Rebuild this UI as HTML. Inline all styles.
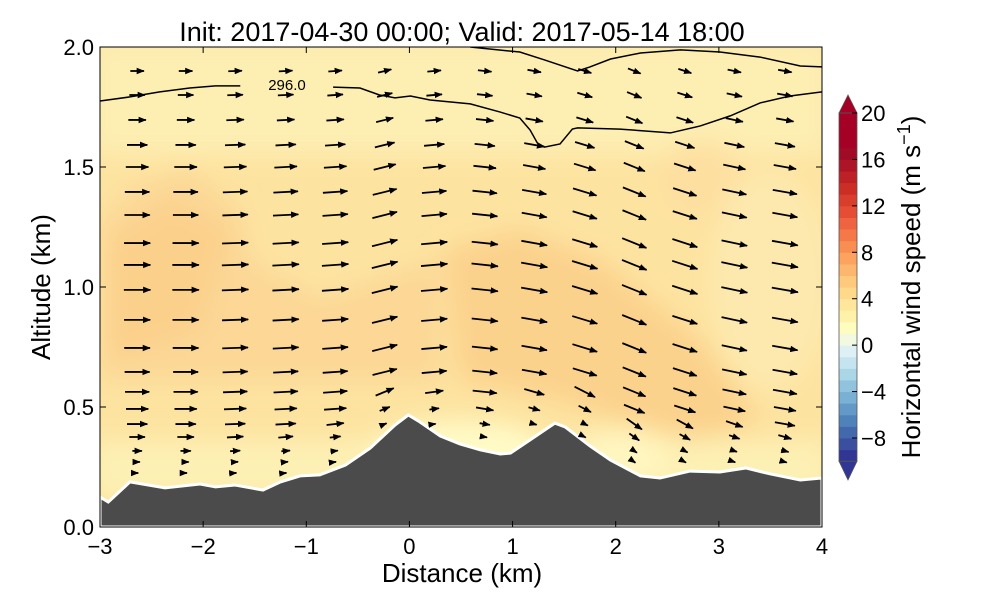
<!DOCTYPE html>
<html><head><meta charset="utf-8"><style>
body{margin:0;background:#fff;}
svg{display:block;font-family:"Liberation Sans","DejaVu Sans",sans-serif;}
</style></head><body>
<svg id="chart" width="1000" height="600" viewBox="0 0 1000 600">
<defs>
<clipPath id="plotclip"><rect x="100" y="47" width="722" height="480"/></clipPath>
<filter id="blur" x="-50%" y="-50%" width="200%" height="200%"><feGaussianBlur stdDeviation="12"/></filter>
<marker id="ah" viewBox="0 0 10 10" refX="9" refY="5" markerWidth="4.5" markerHeight="4.5" orient="auto"><path d="M0,1 L10,5 L0,9 Z" fill="#000"/></marker>
</defs>
<g id="field" clip-path="url(#plotclip)">
<rect x="100" y="47" width="722" height="480" fill="#fde3a0"/>
<g filter="url(#blur)">
<rect x="90" y="40" width="740" height="115" fill="#fdeeb2"/>
<path d="M100,380 L100,220 L140,185 L190,170 L240,210 L250,260 L320,300 L440,260 L440,380 Z" fill="#fcd795"/>
<path d="M110,360 L110,240 L170,200 L230,230 L200,330 Z" fill="#fbd08b"/>
<path d="M445,250 L520,230 L600,260 L700,340 L760,420 L700,440 L620,420 L560,400 L460,380 Z" fill="#fbd28c"/>
<ellipse cx="700" cy="180" rx="45" ry="40" fill="#fde0a0"/>
<ellipse cx="770" cy="280" rx="60" ry="110" fill="#fde9ae"/>
<rect x="90" y="440" width="740" height="60" fill="#fdf0b4"/>
<ellipse cx="460" cy="450" rx="90" ry="30" fill="#fffac6"/>
<ellipse cx="620" cy="455" rx="50" ry="25" fill="#fff6c0"/>
</g>
</g>
<g id="contours" clip-path="url(#plotclip)"></g>
<g id="terrain-g" clip-path="url(#plotclip)"></g>
<g id="quiver" clip-path="url(#plotclip)"></g>
<text x="287" y="90" font-size="15" text-anchor="middle">296.0</text>
<rect x="100" y="47" width="722" height="480" fill="none" stroke="#000" stroke-width="1"/>
<g id="axes"></g>
<text x="462" y="41" font-size="27" text-anchor="middle">Init: 2017-04-30 00:00; Valid: 2017-05-14 18:00</text>
<text x="462" y="582" font-size="26" text-anchor="middle">Distance (km)</text>
<text transform="translate(50,287) rotate(-90)" font-size="26" text-anchor="middle">Altitude (km)</text>
<g id="cbar"></g>
<text transform="translate(920,287) rotate(-90)" font-size="26" text-anchor="middle">Horizontal wind speed (m s<tspan dy="-10" font-size="18">−1</tspan><tspan dy="10">)</tspan></text>
</svg>
<script>
const xTicks=[-3,-2,-1,0,1,2,3,4];
const yTicks=[0.0,0.5,1.0,1.5,2.0];
const terrainX=[-3.00,-2.92,-2.71,-2.37,-2.03,-1.88,-1.69,-1.42,-1.25,-1.06,-0.87,-0.62,-0.38,-0.14,-0.01,0.10,0.30,0.49,0.69,0.88,0.98,1.17,1.41,1.51,1.75,1.95,2.24,2.43,2.72,3.01,3.26,3.50,3.79,4.00];
const terrainZ=[0.125,0.104,0.188,0.163,0.179,0.167,0.175,0.154,0.188,0.213,0.217,0.258,0.329,0.425,0.467,0.438,0.379,0.346,0.321,0.304,0.308,0.363,0.433,0.417,0.338,0.279,0.213,0.204,0.233,0.229,0.246,0.221,0.196,0.204];
const c1aX=[-3,-2.71,-2.42,-2.13,-1.88,-1.64];
const c1aZ=[1.775,1.792,1.813,1.829,1.838,1.838];
const c1bX=[-0.74,-0.48,-0.29,-0.14,0.01,0.20,0.59,0.88,1.07,1.17,1.24,1.31,1.46,1.58,1.63,2.04,2.53,2.82,3.11,3.40,3.69,4];
const c1bZ=[1.833,1.829,1.8,1.788,1.796,1.779,1.763,1.729,1.704,1.654,1.6,1.583,1.596,1.658,1.663,1.658,1.642,1.671,1.713,1.767,1.796,1.813];
const c2X=[0.59,1.07,1.31,1.63,1.75,1.95,2.24,2.63,3.01,3.40,3.79,4];
const c2Z=[2.0,1.979,1.946,1.9,1.917,1.95,1.975,1.988,1.979,1.958,1.921,1.917];
const qCols=[-2.64,-2.17,-1.69,-1.2,-0.72,-0.24,0.24,0.73,1.21,1.70,2.18,2.67,3.15,3.64];
const qColAngle=[0,0,-2,-3,-4,-14,-5,6,10,17,22,18,12,10];
const qLevels=[1.9,1.8,1.696,1.592,1.5,1.396,1.3,1.183,1.092,0.988,0.863,0.746,0.646,0.563,0.492,0.429,0.375,0.317,0.271,0.225];
const qSpeed=[3.5,4,4.5,5.2,5.8,6.3,6.5,6.7,6.8,6.8,6.7,6.6,6.4,6.2,5.7,5.2,4.6,4.0,3.5,3.0];
const cbLevels=[-10,-9,-8,-7,-6,-5,-4,-3,-2,-1,0,1,2,3,4,5,6,7,8,9,10,11,12,13,14,15,16,17,18,19];
const cbColors=["#313695","#3a4f9f","#4169ab","#4f82ba","#6399c7","#79b0d4","#91c3de","#abd6e8","#c4e5ef","#ddf0f4","#f2f9e0","#fffcc0","#fef2ab","#fee79b","#fed98a","#fec97c","#fdb66d","#fca35f","#f98e52","#f57948","#ee6340","#e54e35","#d93e2c","#cc2e26","#bd2126","#ad1426","#a00c26","#a50026","#a50026","#a50026"];
const cbTicks=[-8,-4,0,4,8,12,16,20];

const X0=100,X1=822,Y0=527,Y1=47;
const sx=v=>X0+(v+3)/7*(X1-X0);
const sy=v=>Y0-v/2*(Y0-Y1);
const NS="http://www.w3.org/2000/svg";
function mk(t,a,p){const e=document.createElementNS(NS,t);for(const k in a)e.setAttribute(k,a[k]);p.appendChild(e);return e;}
function terrainAt(x){for(let i=0;i<terrainX.length-1;i++){if(x>=terrainX[i]&&x<=terrainX[i+1]){const f=(x-terrainX[i])/(terrainX[i+1]-terrainX[i]);return terrainZ[i]+f*(terrainZ[i+1]-terrainZ[i]);}}return 0.2;}

const tg=document.getElementById('terrain-g');
let d='M'+sx(terrainX[0])+','+sy(terrainZ[0]);
terrainX.forEach((x,i)=>{d+=' L'+sx(x)+','+sy(terrainZ[i]);});
d+=' L'+sx(4)+','+sy(0)+' L'+sx(-3)+','+sy(0)+' Z';
const tp=mk('path',{d:d,fill:'#4b4b4b',stroke:'#ffffff','stroke-width':3},tg);



const cg=document.getElementById('contours');
[[c1aX,c1aZ],[c1bX,c1bZ],[c2X,c2Z]].forEach((c,k)=>{
  const p=c[0].map((x,i)=>sx(x)+','+sy(c[1][i])).join(' ');
  const l=mk('polyline',{points:p,fill:'none',stroke:'#000','stroke-width':1.5},cg);
  
  
});

const qg=document.getElementById('quiver');
qCols.forEach((x,i)=>{
  const tz=terrainAt(x);
  qLevels.forEach((z,j)=>{
    if(z<tz+0.02)return;
    const gf=Math.min(1,(z-tz)/0.22);
    const len=qSpeed[j]*3.9*Math.max(0.12,gf);
    const ang=qColAngle[i]*Math.PI/180*(gf<1?1.6:1);
    const cx=sx(x),cy=sy(z);
    const dx=len*Math.cos(ang),dy=len*Math.sin(ang);
    const a=mk('line',{x1:cx-dx/2,y1:cy-dy/2,x2:cx+dx/2,y2:cy+dy/2,stroke:'#000','stroke-width':1.8,'marker-end':'url(#ah)'},qg);
    
    
  });
});

const ag=document.getElementById('axes');
xTicks.forEach(t=>{
  mk('line',{x1:sx(t),x2:sx(t),y1:Y0,y2:Y0-6,stroke:'#000'},ag);
  mk('line',{x1:sx(t),x2:sx(t),y1:Y1,y2:Y1+6,stroke:'#000'},ag);
  const tx=mk('text',{x:sx(t),y:554,'font-size':22,'text-anchor':'middle'},ag);
  tx.textContent=t<0?'−'+(-t):String(t);
  
  
});
yTicks.forEach(t=>{
  mk('line',{x1:X0,x2:X0+6,y1:sy(t),y2:sy(t),stroke:'#000'},ag);
  mk('line',{x1:X1,x2:X1-6,y1:sy(t),y2:sy(t),stroke:'#000'},ag);
  const tx=mk('text',{x:94,y:sy(t)+8,'font-size':22,'text-anchor':'end'},ag);
  tx.textContent=t.toFixed(1);
  
  
});

const cb=document.getElementById('cbar');
const CX=839,CW=18;
const cy=v=>113+(20-v)*(438-113)/28;
cbLevels.forEach((v,i)=>{
  const r=mk('rect',{x:CX,y:cy(v+1),width:CW,height:cy(v)-cy(v+1)+0.5,fill:cbColors[i]},cb);
  
  
});
mk('path',{d:`M${CX},${cy(20)} L${CX+CW/2},95 L${CX+CW},${cy(20)} Z`,fill:'#a50026',stroke:'#555','stroke-width':0.8},cb);
mk('path',{d:`M${CX},${cy(-10)} L${CX+CW/2},480 L${CX+CW},${cy(-10)} Z`,fill:'#313695',stroke:'#555','stroke-width':0.8},cb);
mk('rect',{x:CX,y:cy(20),width:CW,height:cy(-10)-cy(20),fill:'none',stroke:'#555','stroke-width':0.8},cb);
cbTicks.forEach(t=>{
  mk('line',{x1:CX+CW-5,x2:CX+CW,y1:cy(t),y2:cy(t),stroke:'#000'},cb);
  const tx=mk('text',{x:861,y:cy(t)+8,'font-size':22},cb);
  tx.textContent=t<0?'−'+(-t):String(t);
  
  
});
</script>
</body></html>
